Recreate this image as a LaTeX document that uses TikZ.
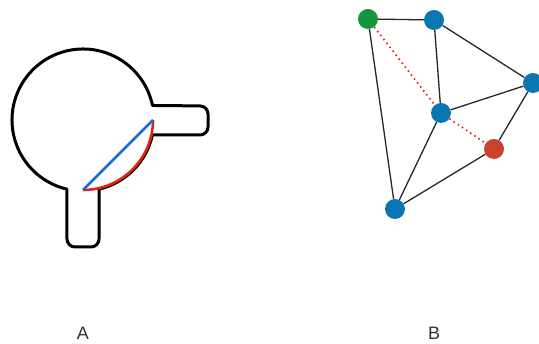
\documentclass[tikz,border=0pt]{standalone}
\usepackage{fontspec}
\setmainfont{Liberation Sans}
\definecolor{dotgreen}{RGB}{20,150,60}
\definecolor{dotblue}{RGB}{10,118,178}
\definecolor{dotred}{RGB}{200,66,44}
\definecolor{chordblue}{RGB}{25,110,215}
\definecolor{arcred}{RGB}{225,35,15}
\begin{document}
\begin{tikzpicture}[x=1pt, y=1pt,
        outline/.style={line width=3pt, line join=round},
        vertex/.style={circle, minimum size=20pt, inner sep=0pt},
        edge/.style={line width=1.3pt, black!85},
        hint/.style={line width=1.7pt, arcred, dash pattern=on 1.5pt off 3.5pt},
        caption/.style={font=\fontsize{18}{20}\selectfont, text=black!80}]
        \useasboundingbox (0, 0) rectangle (539, 344);

        % A
        \coordinate (ctr) at (83, 224);
        \draw[outline] ([shift={(11.8:71)}]ctr) arc[start angle=11.8, end angle=256.9, radius=71]
            [rounded corners=8] -- (67, 97) -- (99, 97) [sharp corners]
            -- ([shift={(-76.9:71)}]ctr) arc[start angle=-76.9, end angle=-12.2, radius=71]
            [rounded corners=8] -- (208, 209) -- (208, 238) [sharp corners] -- cycle;
        \draw[line width=2.6pt, arcred] ([shift={(-90:70)}]ctr) arc[start angle=-90, end angle=0, radius=70];
        \draw[line width=2.6pt, chordblue] ([shift={(-90:70)}]ctr) -- ([shift={(0:70)}]ctr);

        % B
        \node[vertex, fill=dotgreen] (g) at (368, 325) {};
        \node[vertex, fill=dotblue] (t) at (434, 324) {};
        \node[vertex, fill=dotblue] (r) at (533, 261) {};
        \node[vertex, fill=dotblue] (m) at (441, 231) {};
        \node[vertex, fill=dotred] (e) at (494, 195) {};
        \node[vertex, fill=dotblue] (b) at (395, 135) {};

        \draw[edge] (g) -- (t);
        \draw[edge] (g) -- (b);
        \draw[edge] (t) -- (m);
        \draw[edge] (t) -- (r);
        \draw[edge] (r) -- (m);
        \draw[edge] (r) -- (e);
        \draw[edge] (m) -- (b);
        \draw[edge] (e) -- (b);
        \draw[hint] (g) -- (m);
        \draw[hint] (m) -- (e);

        \node[caption] (la) at (83, 11) {A};
        \node[caption] (lb) at (434, 11) {B};
    \end{tikzpicture}
\end{document}
